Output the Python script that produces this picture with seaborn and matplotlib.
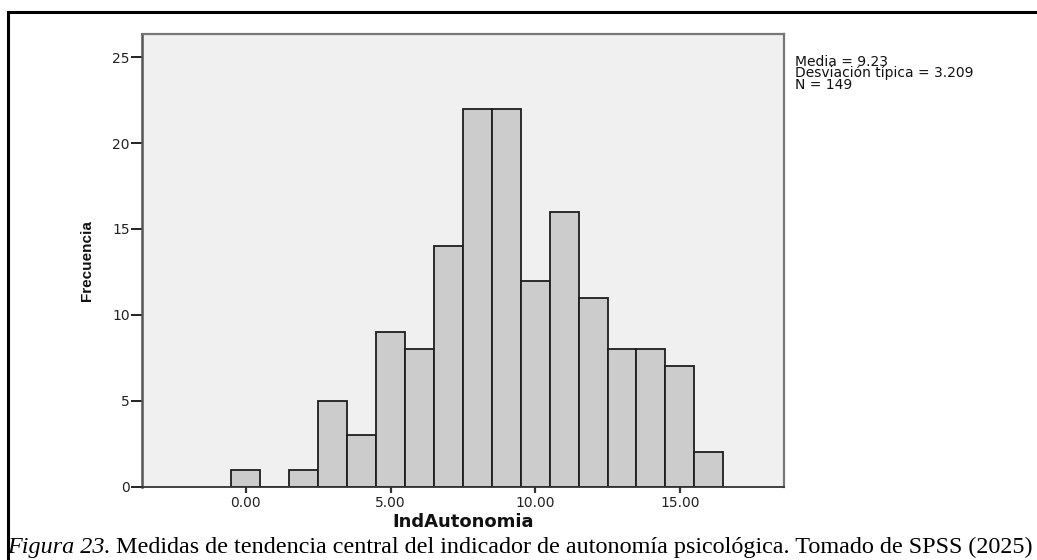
import matplotlib
matplotlib.use("Agg")
import matplotlib.pyplot as plt
from matplotlib.patches import Rectangle
import seaborn as sns
import pandas as pd

# ---------------- data ----------------
bin_centers = [0, 1, 2, 3, 4, 5, 6, 7, 8, 9, 10, 11, 12, 13, 14, 15, 16]
frequencies = [1, 0, 1, 5, 3, 9, 8, 14, 22, 22, 12, 16, 11, 8, 8, 7, 2]
x_ticks = [0, 5, 10, 15]
x_tick_labels = ["0.00", "5.00", "10.00", "15.00"]
y_ticks = [0, 5, 10, 15, 20, 25]
y_tick_labels = ["0", "5", "10", "15", "20", "25"]
stats_lines = ["Media = 9.23", "Desviación típica = 3.209", "N = 149"]
x_label = "IndAutonomia"
y_label = "Frecuencia"
caption_italic = "Figura 23."
caption_rest = " Medidas de tendencia central del indicador de autonomía psicológica. Tomado de SPSS (2025)"

# ---------------- style ----------------
sns.set_theme(style="white")
plt.rcParams['font.family'] = ['DejaVu Sans']

W, H = 1037, 560
fig = plt.figure(figsize=(W / 100, H / 100), dpi=100)
fig.patch.set_facecolor("white")


def px(x, y):
    """pixel (from top-left) -> figure fraction"""
    return x / W, 1 - y / H


ax_left, ax_right, ax_top, ax_bottom = 141.7, 784.3, 34.0, 486.7
ax = fig.add_axes([ax_left / W, 1 - ax_bottom / H,
                   (ax_right - ax_left) / W, (ax_bottom - ax_top) / H])
ax.set_facecolor("#f0f0f0")

df = pd.DataFrame({"IndAutonomia": bin_centers, "Frecuencia": frequencies})
sns.histplot(data=df, x="IndAutonomia", weights="Frecuencia", discrete=True,
             color="#cccccc", edgecolor="#1e1e1e", linewidth=1.3, alpha=1.0,
             ax=ax)

ax.set_xlim(-3.6, 18.61)
ax.set_ylim(0, 26.35)
ax.set_xticks(x_ticks)
ax.set_xticklabels(x_tick_labels, fontsize=10, color="#222222")
ax.set_yticks(y_ticks)
ax.set_yticklabels(y_tick_labels, fontsize=10, color="#222222")
ax.tick_params(axis="x", direction="out", length=4.3, width=1.6,
               color="#333333", pad=2.5, bottom=True)
ax.tick_params(axis="y", direction="out", length=7.8, width=1.4,
               color="#222222", pad=0.8, left=True)
ax.set_xlabel("")
ax.set_ylabel("")
ax.grid(False)

for side, col, lw in [("left", "#555555", 1.8), ("top", "#777777", 1.6),
                      ("right", "#777777", 1.6), ("bottom", "#333333", 1.3)]:
    ax.spines[side].set_visible(True)
    ax.spines[side].set_color(col)
    ax.spines[side].set_linewidth(lw)

# x label
fig.text(*px((ax_left + ax_right) / 2, 527), x_label, ha="center",
         va="baseline", fontsize=13, fontweight="bold", color="#111111")

# y label
fig.text(*px(87, 260.4), y_label, ha="center", va="center", rotation=90,
         fontsize=11, fontweight="bold", family="Liberation Sans",
         color="#111111")

# statistics text (single block, tight line spacing)
fig.text(*px(795, 54.5), "\n".join(stats_lines), ha="left", va="top",
         fontsize=10, linespacing=0.76, color="#111111")

# outer frame of the figure image
fig.add_artist(Rectangle(px(7.5, 600), 1.2, (600 - 12) / H,
                         transform=fig.transFigure, fill=False,
                         edgecolor="black", linewidth=2.2, clip_on=False))

# caption
cap_size = 17.4
t1 = fig.text(*px(7, 553), caption_italic, ha="left", va="baseline",
              fontsize=cap_size, family="Liberation Serif", style="italic",
              color="black")
fig.canvas.draw()
r = fig.canvas.get_renderer()
bb = t1.get_window_extent(r)
fig.text(bb.x1 / W, 1 - 553 / H, caption_rest, ha="left", va="baseline",
         fontsize=cap_size, family="Liberation Serif", color="black")

fig.savefig("out.png", dpi=100)
